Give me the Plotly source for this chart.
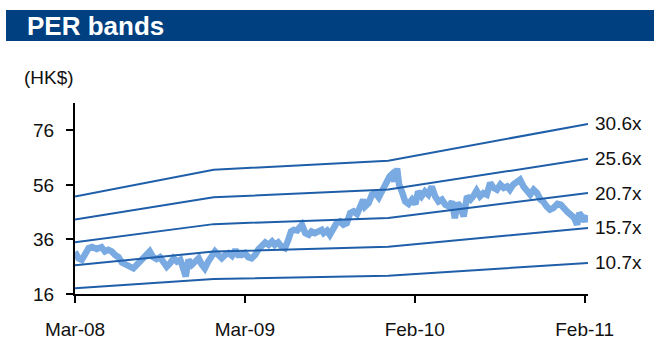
import plotly.graph_objects as go

# Trading-session index (0 = first session of Mar-08) and closing price (HK$)
session = [0, 5, 10, 15, 20, 25, 32, 39, 44, 49, 54, 59, 64, 69, 74, 80, 86, 91, 96,
           101, 106, 110, 115, 120, 125, 130, 135, 140, 145, 150, 155, 160, 163, 167,
           172, 177, 182, 186, 191, 196, 201, 206, 211, 216, 221, 226, 231, 236, 240,
           245, 250, 255, 260, 265, 270, 275, 280, 285, 290, 294, 299, 304, 309, 314,
           318, 322, 327, 334, 339, 344, 348, 353, 358, 363, 366, 371, 375, 380, 385,
           390, 395, 400, 405, 410, 415, 420, 424, 427, 432, 437, 442, 447, 451, 455,
           459, 463, 466, 470, 474, 477, 481, 486, 491, 496, 501, 505, 510, 515, 520,
           525, 530, 535, 540, 545, 550, 555, 559, 563, 567, 572, 577, 582, 586, 591,
           596, 601, 606, 611, 616, 621, 626, 631, 636, 640, 645, 650, 655, 660, 665,
           670, 675, 680, 685, 689, 694, 699, 704, 710, 715, 720, 725, 730, 735, 739,
           742, 746, 750, 753]
price = [31.5, 29.1, 28.5, 30.3, 32.8, 33.2, 32.5, 33.2, 31.6, 32.2, 31.6, 30.3, 29.5,
         27.5, 26.7, 25.7, 25.4, 26.7, 27.9, 29.1, 30.3, 31.6, 29.5, 28.8, 29.5, 27.9,
         26.0, 27.3, 29.1, 27.9, 28.5, 24.8, 22.4, 28.5, 26.7, 27.9, 29.1, 27.0, 25.4,
         27.9, 30.3, 31.6, 30.3, 29.1, 30.3, 31.0, 30.0, 32.2, 30.3, 30.3, 31.0, 29.5,
         29.1, 30.3, 32.4, 34.0, 34.9, 34.0, 35.2, 34.0, 34.9, 33.4, 32.8, 35.9, 38.9,
         39.5, 39.3, 41.4, 38.3, 37.7, 38.9, 38.3, 38.9, 39.5, 38.3, 39.2, 37.7, 39.5,
         42.0, 42.6, 41.4, 42.0, 45.7, 46.3, 45.3, 48.1, 50.6, 48.1, 49.3, 52.4, 53.0,
         51.4, 53.6, 56.1, 57.3, 59.1, 59.8, 57.3, 62.0, 56.1, 53.6, 49.9, 49.0, 50.6,
         49.0, 53.6, 51.8, 53.6, 52.4, 55.4, 51.8, 49.9, 50.6, 48.7, 48.1, 49.9, 43.8,
         49.3, 48.1, 44.4, 51.8, 50.6, 51.8, 53.9, 51.8, 53.0, 52.4, 56.7, 54.9, 54.2,
         56.1, 54.9, 55.4, 54.2, 56.1, 56.7, 57.9, 55.4, 54.2, 52.4, 54.2, 53.0, 50.6,
         49.9, 48.1, 46.9, 47.5, 49.0, 48.7, 46.9, 46.0, 45.0, 43.8, 41.4, 45.7, 44.4,
         42.6, 45.0]

# Forward EPS path (HK$) used for the bands, with its turning points
eps_session = [0, 204, 461, 755]
eps = [1.69, 2.01, 2.12, 2.56]
multiples = [30.6, 25.6, 20.7, 15.7, 10.7]

tick_sessions = [0, 250, 500, 750]
tick_labels = ["Mar-08", "Mar-09", "Feb-10", "Feb-11"]
y_ticks = [16, 36, 56, 76]

TXT = "Liberation Sans, Arial, sans-serif"
TSIZE = 19
BAND = "#1f5ea8"
PRICE = "#7aaae2"

fig = go.Figure()
fig.add_trace(go.Scatter(x=session, y=price, mode="lines",
                         line=dict(color=PRICE, width=6.5), hoverinfo="skip"))
for m in multiples:
    band = [m * e for e in eps]
    fig.add_trace(go.Scatter(x=eps_session, y=band, mode="lines",
                             line=dict(color=BAND, width=2), hoverinfo="skip"))
    fig.add_annotation(x=eps_session[-1], y=band[-1], xref="x", yref="y",
                       text=f"{m}x", showarrow=False, xanchor="left",
                       yanchor="middle", xshift=5,
                       font=dict(family=TXT, size=TSIZE, color="#111111"))

# header bar
fig.add_shape(type="rect", xref="paper", yref="paper",
              x0=-0.1345, x1=1.13, y0=1.3246, y1=1.487,
              fillcolor="#004080", line=dict(width=0), layer="above")
fig.add_annotation(xref="paper", yref="paper", x=-0.0975, y=1.405,
                   xanchor="left", yanchor="middle", showarrow=False,
                   text="<b>PER bands</b>",
                   font=dict(family="Liberation Sans, Arial, sans-serif",
                             size=26, color="white"))
fig.add_annotation(xref="paper", yref="paper", x=-0.1025, y=1.136,
                   xanchor="left", yanchor="middle", showarrow=False,
                   text="(HK$)", font=dict(family=TXT, size=TSIZE, color="#111111"))

fig.update_layout(
    width=654, height=342,
    margin=dict(l=75, r=66, t=103, b=48, autoexpand=False),
    paper_bgcolor="white", plot_bgcolor="white",
    showlegend=False,
)
fig.update_xaxes(range=[0, 755], tickmode="array", tickvals=tick_sessions,
                 ticktext=tick_labels, ticks="outside", ticklen=7, tickwidth=2,
                 tickcolor="black", showline=True, linecolor="black",
                 linewidth=2, showgrid=False, zeroline=False, automargin=False,
                 ticklabelstandoff=10,
                 tickfont=dict(family=TXT, size=TSIZE, color="#111111"))
fig.update_yaxes(range=[16, 86], tickmode="array", tickvals=y_ticks,
                 ticks="outside", ticklen=7, tickwidth=2, tickcolor="black",
                 showline=True, linecolor="black", linewidth=2, automargin=False,
                 showgrid=False, zeroline=False, ticklabelstandoff=8,
                 tickfont=dict(family=TXT, size=TSIZE, color="#111111"))

fig.write_html("out.html")
